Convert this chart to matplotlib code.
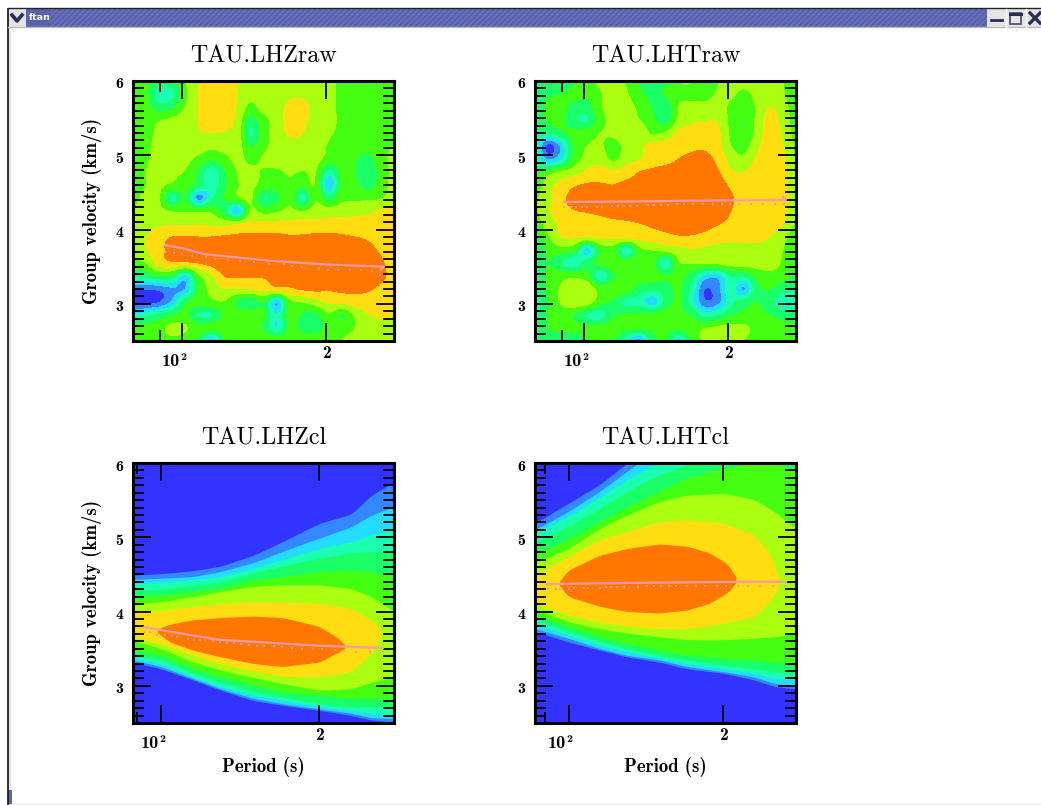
import numpy as np
import matplotlib
matplotlib.use("Agg")
import matplotlib.pyplot as plt
from matplotlib.patches import Rectangle
from matplotlib.ticker import NullFormatter
from matplotlib.transforms import ScaledTranslation

# band colours, lowest to highest amplitude
band_colors = ['#3333ff', '#3388ff', '#22ddff', '#1affb0', '#1aff66',
               '#44ff11', '#aaff11', '#ffdd11', '#ff7700']
pink = '#ff99aa'

# --- raw panels: amplitude band read on a 21x21 lattice, top row is 6 km/s ---
zraw_levels = [
    [5.6,5.3,4.4,4.6,5.9,6.9,7.6,7.6,7.0,6.5,6.6,6.6,6.6,6.6,6.5,6.2,5.8,5.6,5.5,5.4,5.4],
    [5.6,5.2,3.4,3.6,5.7,7.0,7.6,7.6,7.0,6.3,6.5,6.6,6.8,6.8,6.5,6.2,5.8,5.5,5.5,5.4,5.4],
    [5.6,5.4,4.4,4.7,6.0,7.0,7.6,7.6,6.9,5.7,6.4,6.6,7.2,7.3,6.6,6.2,5.8,5.5,5.5,5.4,5.4],
    [5.6,5.6,5.9,6.2,6.5,7.0,7.5,7.4,6.7,4.5,5.6,6.5,7.3,7.2,6.6,6.3,5.8,5.6,5.5,5.4,5.4],
    [5.6,5.7,6.2,6.5,6.6,6.9,7.0,6.9,6.6,3.8,5.4,6.5,7.1,7.0,6.5,6.1,5.8,5.6,5.5,5.4,5.4],
    [5.6,5.8,6.3,6.6,6.6,6.5,6.2,6.4,6.5,4.9,5.7,6.4,6.7,6.7,6.4,5.9,5.6,5.5,5.3,5.6,6.0],
    [5.7,5.9,6.3,6.4,6.3,5.7,5.2,5.6,6.3,5.7,6.1,6.5,6.6,6.6,6.3,5.6,5.5,5.1,4.6,5.7,6.2],
    [5.7,6.0,6.2,6.1,5.9,4.8,3.2,4.8,6.0,6.2,5.9,5.8,6.1,5.9,6.0,3.4,5.2,5.0,4.0,5.4,6.2],
    [5.7,6.0,6.1,5.8,5.5,4.5,3.4,4.7,5.9,6.2,5.6,5.5,5.9,5.2,5.9,2.0,5.2,5.3,4.4,5.5,6.3],
    [5.9,6.1,6.1,3.6,5.0,1.5,3.6,5.0,5.7,6.2,3.9,4.6,5.8,3.4,5.9,4.4,5.7,5.8,5.8,5.9,6.4],
    [6.0,6.2,6.2,5.9,5.9,5.7,5.7,4.4,2.0,6.0,5.5,5.8,6.2,5.9,6.4,6.4,6.5,6.6,6.7,7.1,7.4],
    [6.2,6.5,6.8,6.9,6.9,6.9,6.8,6.7,6.9,7.2,7.3,7.3,7.3,7.4,7.3,7.4,7.5,7.5,7.6,7.6,7.7],
    [6.6,7.0,7.6,8.0,8.05,8.0,8.0,8.1,8.15,8.2,8.2,8.2,8.1,8.1,8.2,8.2,8.1,8.0,7.9,7.8,7.7],
    [6.5,6.9,7.6,8.4,8.5,8.5,8.6,8.6,8.6,8.7,8.7,8.7,8.7,8.7,8.7,8.7,8.6,8.5,8.2,7.9,7.7],
    [5.5,6.0,7.4,7.8,7.8,8.0,8.3,8.7,8.8,8.8,8.8,8.8,8.8,8.8,8.8,8.8,8.8,8.7,8.6,8.1,7.7],
    [3.8,4.2,4.8,4.6,2.6,5.5,6.8,8.0,8.1,8.1,8.1,8.2,8.4,8.5,8.6,8.6,8.6,8.6,8.6,8.2,7.7],
    [1.1,1.0,1.2,1.8,2.0,5.0,6.3,6.9,6.9,7.0,7.3,7.6,7.8,8.1,8.2,8.1,8.2,8.2,8.1,7.8,7.5],
    [0.5,0.6,0.9,2.2,4.6,5.4,5.7,5.9,4.7,4.0,5.0,2.0,5.5,6.0,6.5,7.1,7.2,7.5,7.6,7.6,7.3],
    [3.0,3.5,4.2,4.8,5.3,3.9,3.8,5.2,5.7,5.7,5.2,3.0,5.4,4.8,4.6,5.8,4.9,6.1,6.9,7.2,7.0],
    [5.2,5.5,5.6,6.3,6.1,5.4,5.4,5.6,5.7,5.6,4.8,3.0,5.2,4.6,4.4,5.5,5.7,6.0,6.4,6.6,6.6],
    [5.6,5.4,5.6,5.7,5.5,4.8,1.8,4.9,5.6,5.7,5.8,5.7,5.7,5.8,5.8,5.9,6.0,6.2,6.4,6.5,6.6],
]
traw_levels = [
    [4.5,4.2,3.8,4.8,5.6,6.2,6.5,5.9,4.9,4.5,4.8,5.9,6.0,4.9,5.9,6.5,6.4,6.5,6.5,6.0,5.2],
    [4.5,4.8,5.0,5.3,5.3,5.9,6.4,6.1,5.2,4.8,5.1,5.7,5.6,5.5,6.1,6.2,5.7,6.3,6.5,6.1,5.2],
    [4.3,5.2,5.3,4.6,4.5,5.8,6.5,6.4,5.7,4.9,4.3,6.0,6.4,6.3,6.4,5.8,5.3,6.1,7.0,6.4,5.4],
    [4.2,5.1,5.2,4.2,3.9,5.5,6.4,6.5,6.0,5.3,4.4,6.2,6.8,6.9,6.9,5.7,5.0,6.2,7.4,6.6,5.5],
    [3.8,4.0,4.7,5.3,5.5,6.0,6.2,6.8,6.7,5.8,6.1,7.2,7.4,7.5,7.2,5.8,5.1,6.3,7.6,6.8,5.6],
    [3.6,0.6,2.2,5.2,6.0,6.1,5.6,6.3,6.8,7.3,7.4,7.6,7.8,7.8,7.4,6.0,5.6,6.7,7.7,7.0,5.8],
    [3.7,1.8,2.8,5.3,6.3,6.6,5.7,6.6,6.9,7.4,7.6,8.0,8.2,8.3,7.7,6.6,6.2,7.1,7.7,7.2,5.9],
    [4.6,5.4,6.1,6.5,7.2,7.4,7.2,7.4,8.0,8.2,8.4,8.5,8.6,8.6,8.1,7.1,7.0,7.4,7.7,7.3,6.1],
    [5.3,6.5,7.3,7.85,8.1,8.1,8.0,8.3,8.5,8.6,8.6,8.7,8.7,8.7,8.5,7.8,7.5,7.6,7.8,7.4,6.1],
    [5.8,6.7,7.7,8.3,8.6,8.7,8.7,8.7,8.8,8.8,8.8,8.8,8.8,8.8,8.7,8.1,7.7,7.7,7.8,7.5,6.2],
    [5.8,6.8,7.6,7.95,8.05,8.2,8.4,8.5,8.6,8.7,8.8,8.8,8.8,8.8,8.7,8.0,7.7,7.7,7.7,7.4,6.1],
    [5.4,6.4,7.2,7.5,7.6,7.6,7.7,7.8,7.95,8.15,8.3,8.3,8.3,8.3,8.05,7.7,7.5,7.5,7.5,7.0,5.9],
    [4.5,5.8,7.0,7.1,6.9,7.2,7.2,7.3,7.4,7.5,7.7,7.9,7.9,7.7,7.4,7.2,7.2,7.2,7.0,6.3,5.4],
    [4.0,5.2,5.5,5.0,2.4,5.0,5.4,3.0,5.6,6.0,6.3,6.6,6.9,6.7,6.6,6.7,6.7,6.7,6.6,6.0,4.9],
    [3.8,5.0,4.0,3.2,4.6,5.3,5.6,5.5,5.6,5.4,3.0,5.8,6.0,6.1,6.2,6.4,6.5,6.5,6.5,5.8,4.9],
    [3.9,5.2,5.6,5.7,5.3,3.2,4.8,5.3,5.5,5.5,5.0,5.3,4.4,2.6,2.3,4.0,4.0,5.2,5.6,5.4,4.8],
    [3.9,5.2,6.1,6.7,6.7,5.5,5.6,5.5,4.5,4.2,4.4,5.2,3.6,1.0,1.6,3.6,1.8,4.6,5.0,4.3,4.0],
    [3.3,5.0,6.1,6.7,6.5,5.3,4.8,3.6,3.5,2.3,4.3,5.1,3.4,1.2,1.6,3.6,4.4,5.0,4.4,3.0,3.2],
    [3.6,5.0,5.4,4.9,3.8,3.4,4.8,5.1,5.2,5.3,5.4,5.3,4.8,3.4,3.9,4.8,5.2,5.2,5.0,4.5,4.5],
    [4.6,5.0,5.3,5.3,5.3,5.4,5.5,5.3,5.2,5.2,5.3,5.3,5.6,5.9,6.2,6.3,6.2,5.7,5.5,5.4,5.2],
    [4.6,4.6,4.2,4.2,5.0,5.2,5.0,3.0,1.5,4.4,5.0,2.5,5.0,6.2,6.3,6.3,6.0,5.6,5.5,5.5,5.3],
]

# --- clean panels: band edges (km/s) against period ---
# rows: mid blue, cyan, teal, spring, green, yellow-green
zcl_periods = [88, 100, 115, 130, 150, 170, 200, 230, 251, 277]
zcl_upper = [
    [4.49,4.51,4.55,4.61,4.76,4.94,5.19,5.31,5.57,5.74],
    [4.43,4.45,4.47,4.54,4.66,4.81,4.99,5.14,5.30,5.41],
    [4.38,4.39,4.43,4.47,4.58,4.70,4.85,4.94,5.03,5.10],
    [4.29,4.30,4.35,4.40,4.52,4.61,4.72,4.79,4.81,4.81],
    [4.20,4.22,4.27,4.31,4.43,4.47,4.54,4.56,4.54,4.47],
    [4.10,4.13,4.20,4.27,4.34,4.36,4.36,4.31,4.20,4.00],
]
zcl_lower = [
    [3.32,3.23,3.08,2.94,2.80,2.74,2.67,2.60,2.54,2.51],
    [3.35,3.26,3.10,2.96,2.83,2.76,2.69,2.63,2.57,2.56],
    [3.38,3.30,3.12,2.99,2.87,2.81,2.72,2.67,2.63,2.60],
    [3.41,3.35,3.17,3.05,2.92,2.85,2.76,2.72,2.72,2.72],
    [3.48,3.41,3.23,3.12,3.01,2.92,2.87,2.83,2.83,2.83],
    [3.62,3.50,3.32,3.21,3.11,3.03,2.94,2.96,3.05,3.12],
]
zcl_yellow_periods = [88, 100, 115, 130, 150, 170, 200, 230, 251, 260, 262]
zcl_yellow_upper = [4.00,4.01,4.07,4.11,4.13,4.13,4.11,4.04,3.89,3.78,3.71]
zcl_yellow_lower = [3.66,3.57,3.41,3.30,3.20,3.13,3.12,3.19,3.44,3.60,3.71]
zcl_orange_periods = [98.4, 99.5, 104, 115, 130, 150, 170, 200, 215, 221, 223]
zcl_orange_upper = [3.75,3.78,3.83,3.89,3.92,3.94,3.92,3.80,3.66,3.60,3.53]
zcl_orange_lower = [3.73,3.69,3.59,3.48,3.39,3.30,3.26,3.32,3.44,3.47,3.53]

tcl_periods = [86, 100, 115, 130, 150, 170, 200, 230, 251, 277]
tcl_upper = [
    [5.19,5.46,5.71,6.00,6.30,6.60,6.80,6.80,6.80,6.80],
    [5.10,5.35,5.62,5.89,6.20,6.50,6.70,6.70,6.70,6.70],
    [5.06,5.28,5.53,5.78,6.00,6.30,6.50,6.60,6.60,6.60],
    [4.92,5.15,5.39,5.62,5.84,5.98,6.10,6.20,6.10,6.05],
    [4.79,4.97,5.21,5.41,5.62,5.80,5.93,5.99,6.00,5.89],
    [4.65,4.85,5.12,5.30,5.48,5.57,5.59,5.51,5.35,5.12],
]
tcl_lower = [
    [3.73,3.59,3.48,3.39,3.32,3.23,3.17,3.08,2.99,2.96],
    [3.77,3.64,3.50,3.41,3.35,3.26,3.19,3.12,3.03,3.01],
    [3.84,3.68,3.55,3.46,3.37,3.30,3.23,3.17,3.10,3.08],
    [3.89,3.73,3.59,3.50,3.41,3.35,3.28,3.23,3.19,3.17],
    [3.95,3.80,3.66,3.57,3.48,3.41,3.37,3.35,3.32,3.30],
    [4.04,3.86,3.77,3.71,3.66,3.62,3.62,3.64,3.66,3.71],
]
tcl_yellow_periods = [86, 100, 115, 130, 150, 170, 200, 230, 251, 255, 256]
tcl_yellow_upper = [4.49,4.74,4.97,5.08,5.21,5.24,5.19,5.03,4.70,4.52,4.38]
tcl_yellow_lower = [4.11,3.95,3.86,3.80,3.77,3.77,3.84,3.93,4.20,4.28,4.38]
tcl_orange_periods = [96, 97, 100, 115, 130, 150, 170, 188, 203, 210, 211.5]
tcl_orange_upper = [4.38,4.46,4.56,4.76,4.85,4.91,4.88,4.79,4.65,4.52,4.43]
tcl_orange_lower = [4.38,4.30,4.20,4.07,4.00,3.98,4.02,4.11,4.25,4.34,4.43]

# --- dispersion picks: solid curve and dotted curve ---
zraw_line_p = [92.3, 100, 111, 153, 200, 264, 260]
zraw_line_v = [3.79, 3.75, 3.67, 3.58, 3.53, 3.50, 3.46]
zraw_dot_p = [92.3,96,100,105,112,117,125,132,141,152,163,170,178,193,202,212,224,236,249,259]
zraw_dot_v = [3.70,3.69,3.67,3.65,3.63,3.61,3.59,3.58,3.56,3.54,3.53,3.51,3.49,3.48,3.46,3.46,3.45,3.45,3.44,3.39]

traw_line_p = [90.9, 130, 180, 264, 260]
traw_line_v = [4.37, 4.38, 4.39, 4.40, 4.44]
traw_dot_p = [90.9,93.8,96.1,99.2,101.6,106.6,109,114.5,118,121,125,129,136,140,145,150,156,162,169,177,186,194,202,211,223,236,250,262]
traw_dot_v = [4.30,4.30,4.30,4.31,4.31,4.31,4.31,4.32,4.32,4.32,4.32,4.32,4.33,4.33,4.33,4.33,4.34,4.34,4.34,4.35,4.35,4.35,4.35,4.34,4.34,4.34,4.34,4.34]

zcl_line_p = [93, 104, 129, 161, 200, 264]
zcl_line_v = [3.79, 3.73, 3.62, 3.58, 3.54, 3.51]
zcl_dot_p = [93.3,95.3,98.4,101.8,104.8,107.4,112.7,115.5,118.5,125.7,129.3,133.2,137.5,142,147,152,157,164,170,177,185,194,202,214,223,235,249,264]
zcl_dot_v = [3.73,3.72,3.69,3.68,3.67,3.66,3.63,3.62,3.62,3.60,3.59,3.58,3.58,3.56,3.55,3.54,3.53,3.53,3.52,3.51,3.50,3.49,3.49,3.48,3.47,3.46,3.45,3.46]

tcl_line_p = [90.8, 113, 148.6, 212, 265]
tcl_line_v = [4.37, 4.38, 4.39, 4.40, 4.40]
tcl_dot_p = [91,94.5,96.4,100,102.6,107,109,115,118,121,124,128,136.6,142,146.4,151,156.5,162,170,177,184,194,202,214,223,236,250,264]
tcl_dot_v = [4.31,4.31,4.31,4.31,4.32,4.32,4.32,4.32,4.33,4.33,4.33,4.33,4.33,4.34,4.34,4.34,4.34,4.35,4.35,4.35,4.35,4.35,4.35,4.35,4.35,4.35,4.35,4.35]

W, H = 1041, 805
fig = plt.figure(figsize=(W / 100, H / 100), dpi=100, facecolor='white')


def panel_axes(left, top, right, bottom):
    return fig.add_axes([left / W, 1 - bottom / H, (right - left) / W, (bottom - top) / H])


def refine_rows(z, n=5):
    # Catmull-Rom between lattice rows, so the read values stay on the curve
    out = []
    last = z.shape[0] - 1
    for i in range(last):
        p0, p1, p2, p3 = z[max(i - 1, 0)], z[i], z[i + 1], z[min(i + 2, last)]
        for t in np.arange(n) / n:
            out.append(0.5 * (2 * p1 + (p2 - p0) * t + (2 * p0 - 5 * p1 + 4 * p2 - p3) * t ** 2
                              + (3 * p1 - p0 - 3 * p2 + p3) * t ** 3))
    out.append(z[last])
    return np.array(out)


def smooth_edge(p, v, dense_p):
    lp = np.log10(dense_p)
    y = np.interp(lp, np.log10(p), v)
    pad = 6
    y = np.concatenate([np.full(pad, y[0]), y, np.full(pad, y[-1])])
    return np.convolve(y, np.ones(2 * pad + 1) / (2 * pad + 1), mode='valid')


def style_axes(ax, pmin, title, ylabel, xlabel):
    ax.set_xscale('log')
    ax.set_xlim(pmin, 277)
    ax.set_ylim(2.5, 6)
    ax.set_xticks([100, 200])
    ax.set_xticks([90], minor=True)
    ax.set_yticks([3, 4, 5, 6])
    ax.set_yticks(np.arange(2.6, 6, 0.1), minor=True)
    ax.xaxis.set_major_formatter(NullFormatter())
    ax.xaxis.set_minor_formatter(NullFormatter())
    ax.set_yticklabels(['3', '4', '5', '6'], family='cmb10', fontsize=11.5)
    ax.tick_params(axis='both', which='major', direction='in', top=True, right=True,
                   length=13, width=1.3, pad=7)
    ax.tick_params(axis='both', which='minor', direction='in', top=True, right=True,
                   length=8, width=1.3)
    shift = ScaledTranslation(0, -2 / 100, fig.dpi_scale_trans)
    for lab in ax.get_yticklabels():
        lab.set_transform(lab.get_transform() + shift)
    for s in ax.spines.values():
        s.set_linewidth(2.2)
    ax.set_title(title, family='cmr10', fontsize=17.3, pad=13)
    ax.annotate('10', xy=(100, 2.5), xytext=(-11.5, -20), textcoords='offset pixels',
                ha='center', va='center', family='cmb10', fontsize=13)
    ax.annotate('2', xy=(100, 2.5), xytext=(1, -16), textcoords='offset pixels',
                ha='center', va='center', family='cmb10', fontsize=8.5)
    ax.annotate('2', xy=(200, 2.5), xytext=(0, -12), textcoords='offset pixels',
                ha='center', va='center', family='cmb10', fontsize=12.5)
    if ylabel:
        ax.set_ylabel('Group velocity (km/s)', family='cmb10', fontsize=13.5)
        ax.yaxis.set_label_coords(-0.12, 0.5)
    if xlabel:
        ax.annotate('Period (s)', xy=(0.5, 0), xycoords='axes fraction', xytext=(0, -44),
                    textcoords='offset pixels', ha='center', va='center',
                    family='cmb10', fontsize=13.5)


def raw_panel(ax, levels, pmin):
    z = refine_rows(refine_rows(np.array(levels)).T).T
    periods = np.geomspace(pmin, 277, z.shape[1])
    vels = np.linspace(6, 2.5, z.shape[0])
    ax.contourf(periods, vels, z, levels=np.arange(1, 9),
                colors=band_colors, extend='both', antialiased=False)


def band(ax, p, low, up, color):
    dense = np.geomspace(p[0], p[-1], 260)
    ax.fill_between(dense, smooth_edge(p, low, dense), smooth_edge(p, up, dense),
                    color=color, lw=0, antialiased=False)


def clean_panel(ax, periods, upper, lower, yp, yu, yl, op, ou, ol):
    ax.set_facecolor(band_colors[0])
    for i in range(6):
        band(ax, periods, lower[i], upper[i], band_colors[i + 1])
    band(ax, yp, yl, yu, band_colors[7])
    band(ax, op, ol, ou, band_colors[8])


def picks(ax, lp, lv, dp, dv):
    ax.plot(lp, lv, color=pink, lw=1.6, zorder=3)
    ax.plot(dp, dv, ls='none', marker='s', ms=1.8, mew=0, color=pink, zorder=3)


ax1 = panel_axes(133, 81, 394, 341)
raw_panel(ax1, zraw_levels, 79)
picks(ax1, zraw_line_p, zraw_line_v, zraw_dot_p, zraw_dot_v)
style_axes(ax1, 79, 'TAU.LHZraw', True, False)

ax2 = panel_axes(535, 81, 796, 341)
raw_panel(ax2, traw_levels, 79)
picks(ax2, traw_line_p, traw_line_v, traw_dot_p, traw_dot_v)
style_axes(ax2, 79, 'TAU.LHTraw', False, False)

ax3 = panel_axes(133, 463, 394, 723)
clean_panel(ax3, zcl_periods, zcl_upper, zcl_lower, zcl_yellow_periods, zcl_yellow_upper,
            zcl_yellow_lower, zcl_orange_periods, zcl_orange_upper, zcl_orange_lower)
picks(ax3, zcl_line_p, zcl_line_v, zcl_dot_p, zcl_dot_v)
style_axes(ax3, 88.5, 'TAU.LHZcl', True, True)

ax4 = panel_axes(535, 463, 796, 723)
clean_panel(ax4, tcl_periods, tcl_upper, tcl_lower, tcl_yellow_periods, tcl_yellow_upper,
            tcl_yellow_lower, tcl_orange_periods, tcl_orange_upper, tcl_orange_lower)
picks(ax4, tcl_line_p, tcl_line_v, tcl_dot_p, tcl_dot_v)
style_axes(ax4, 86, 'TAU.LHTcl', False, True)

# window frame drawn in pixel coordinates
chrome = fig.add_axes([0, 0, 1, 1], zorder=5)
chrome.set_xlim(0, W)
chrome.set_ylim(H, 0)
chrome.axis('off')
chrome.add_patch(Rectangle((26, 9), 961, 18, fc='#5a62ad', ec='none'))
chrome.add_patch(Rectangle((50, 9), 937, 18, fc='none', ec='#6a72bb', hatch='//////', lw=0))
chrome.add_patch(Rectangle((8, 9), 18, 18, fc='#e4e4e4', ec='none'))
chrome.add_patch(Rectangle((987, 9), 54, 18, fc='#e4e4e4', ec='none'))
chrome.add_patch(Rectangle((8, 27), 2.5, 778, fc='#e6e6e6', ec='none'))
chrome.add_patch(Rectangle((8, 803.5), 1033, 1.5, fc='#e6e6e6', ec='none'))
chrome.plot([8, 1041], [8.5, 8.5], color='#222222', lw=1)
chrome.plot([7.5, 7.5], [9, 805], color='#111111', lw=1.2)
chrome.plot([8, 1041], [27.5, 27.5], color='#bbbbbb', lw=1)
chrome.add_patch(Rectangle((8, 790), 4, 14, fc='#5a62c0', ec='none'))
chrome.plot([12, 17, 22], [15, 21, 15], color='#2a2f55', lw=2.6)
chrome.text(29, 18, 'ftan', color='white', fontsize=6.8, fontweight='bold', va='center', family='DejaVu Sans')
chrome.plot([991, 1002], [20.5, 20.5], color='#2a2f55', lw=2)
chrome.add_patch(Rectangle((1010, 13), 11, 11, fc='none', ec='#50557a', lw=1.3))
chrome.plot([1010, 1021], [14.5, 14.5], color='#2a2f55', lw=2.2)
chrome.plot([1030, 1040], [13, 23], color='#2a2f55', lw=2.4)
chrome.plot([1030, 1040], [23, 13], color='#2a2f55', lw=2.4)
for x in (1006, 1026):
    chrome.plot([x, x], [9, 27], color='white', lw=1)

fig.savefig('out.png', dpi=100)
